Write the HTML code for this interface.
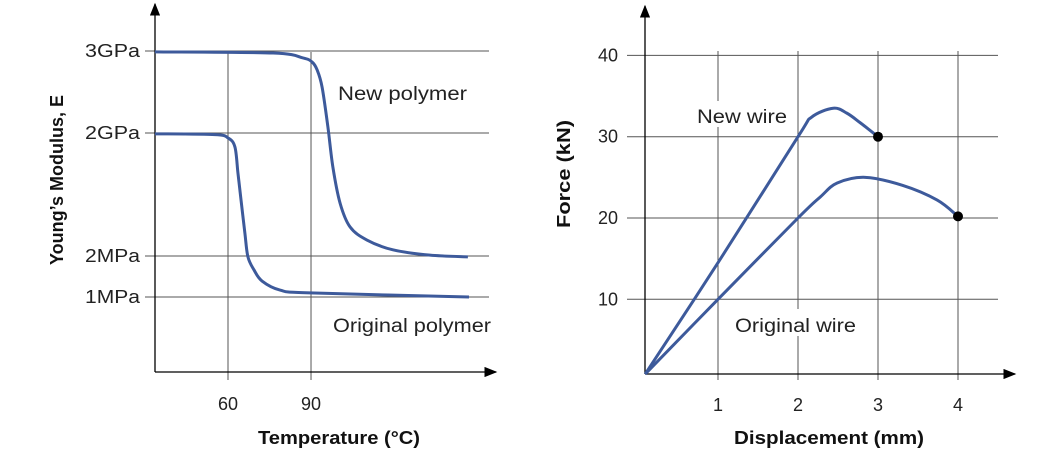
<!DOCTYPE html>
<html><head><meta charset="utf-8"><style>
body{margin:0;background:#fff}
svg{display:block;font-family:"Liberation Sans",sans-serif}
</style></head><body>
<svg id="c" width="1044" height="461" viewBox="0 0 1044 461"></svg>
<script>
// Left chart data (x in °C, y in level units: 0=1MPa,1=2MPa,4=2GPa,6=3GPa)
const leftYTickLabels=["3GPa","2GPa","2MPa","1MPa"];
const leftYTickLevels=[6,4,1,0];
const leftXTicks=[60,90];
const newPolyX=[33.6,76.3,87.1,90.4,92.2,94.0,96.1,97.9,100.5,104.1,110.2,119.6,133.0,146.7];
const newPolyY=[5.98,5.95,5.83,5.73,5.54,5.12,4.15,3.17,2.29,1.71,1.39,1.15,1.02,0.98];
const origPolyX=[33.6,55.3,60,62.5,63.6,64.7,66.1,67.2,69.4,72.3,78.8,89.6,147.1];
const origPolyY=[3.98,3.96,3.88,3.66,3.02,2.37,1.56,0.98,0.66,0.39,0.17,0.10,0];
// Right chart data
const rightYTicks=[10,20,30,40];
const rightXTicks=[1,2,3,4];
const newWireX=[0.09,1,2,2.17,2.44,2.61,2.78,3];
const newWireY=[0.8,14.5,30,32.4,33.5,32.9,31.7,30];
const origWireX=[0.09,1,2,2.28,2.49,2.84,3.31,3.74,4];
const origWireY=[0.8,10,20,22.6,24.3,25.0,24.0,22.2,20.2];

const NS="http://www.w3.org/2000/svg",svg=document.getElementById('c');
function mk(t,a,txt){const e=document.createElementNS(NS,t);for(const k in a)e.setAttribute(k,a[k]);if(txt!=null)e.textContent=txt;svg.appendChild(e);return e;}
const lx=v=>228+(v-60)*2.767, ly=v=>297-41*v;
const rx=v=>638+v*80, ry=v=>380.6-8.13*v;
function smooth(pts){let d=`M${pts[0][0]},${pts[0][1]}`;for(let i=0;i<pts.length-1;i++){const p0=pts[i-1]||pts[i],p1=pts[i],p2=pts[i+1],p3=pts[i+2]||p2;const t=6;d+=` C${p1[0]+(p2[0]-p0[0])/t},${p1[1]+(p2[1]-p0[1])/t} ${p2[0]-(p3[0]-p1[0])/t},${p2[1]-(p3[1]-p1[1])/t} ${p2[0]},${p2[1]}`;}return d;}
const g="#555",lc="#3d5a9b";
const defs=mk('defs',{});defs.innerHTML='<marker id="ar" markerWidth="10" markerHeight="8" refX="9" refY="4" orient="auto"><path d="M0,0 L10,4 L0,8 z" fill="#000"/></marker>';
function lbl(name,attrs,txt,len){const a=Object.assign({fill:'#222'},attrs);if(len){a.textLength=len;a.lengthAdjust='spacingAndGlyphs';}const t=mk('text',a,txt);return t;}

// LEFT gridlines
leftYTickLevels.forEach((v,i)=>{let e=mk('line',{x1:145,x2:489,y1:ly(v),y2:ly(v),stroke:g,'stroke-width':1});

let t=mk('text',{x:85,y:ly(v)+6,'font-size':18,fill:'#222',textLength:55,lengthAdjust:'spacingAndGlyphs'},leftYTickLabels[i]);
});
leftXTicks.forEach(v=>{let e=mk('line',{x1:lx(v),x2:lx(v),y1:52,y2:380,stroke:g,'stroke-width':1});

let t=mk('text',{x:lx(v),y:410,'text-anchor':'middle','font-size':18,fill:'#222'},v);
});
let a=mk('line',{x1:155,y1:372,x2:155,y2:4,stroke:'#000','stroke-width':1.3,'marker-end':'url(#ar)'});
a=mk('line',{x1:155,y1:372,x2:496,y2:372,stroke:'#000','stroke-width':1.3,'marker-end':'url(#ar)'});
let p=mk('path',{d:smooth(newPolyX.map((x,i)=>[lx(x),ly(newPolyY[i])])),fill:'none',stroke:lc,'stroke-width':3});

p=mk('path',{d:smooth(origPolyX.map((x,i)=>[lx(x),ly(origPolyY[i])])),fill:'none',stroke:lc,'stroke-width':3});

lbl('new-polymer-label',{x:338,y:100,'font-size':19},'New polymer',129);
lbl('original-polymer-label',{x:333,y:332,'font-size':19},'Original polymer',158);
lbl('left-x-axis-title',{x:258,y:444,'font-size':18,'font-weight':'bold',fill:'#111'},'Temperature (°C)',162);
lbl('left-y-axis-title',{x:0,y:0,transform:'translate(63,265) rotate(-90)','font-size':18,'font-weight':'bold',fill:'#111'},'Young’s Modulus, E',170);

// RIGHT
rightYTicks.forEach(v=>{let e=mk('line',{x1:627,x2:998,y1:ry(v),y2:ry(v),stroke:g,'stroke-width':1});

let t=mk('text',{x:618,y:ry(v)+6,'text-anchor':'end','font-size':18,fill:'#222'},v);
});
rightXTicks.forEach(v=>{let e=mk('line',{x1:rx(v),x2:rx(v),y1:51,y2:380,stroke:g,'stroke-width':1});

let t=mk('text',{x:rx(v),y:411,'text-anchor':'middle','font-size':18,fill:'#222'},v);
});
a=mk('line',{x1:645,y1:374,x2:645,y2:6,stroke:'#000','stroke-width':1.3,'marker-end':'url(#ar)'});
a=mk('line',{x1:645,y1:374,x2:1015,y2:374,stroke:'#000','stroke-width':1.3,'marker-end':'url(#ar)'});
let r=mk('rect',{x:692,y:101,width:100,height:26,fill:'#fff'});
r=mk('rect',{x:730,y:309,width:132,height:27,fill:'#fff'});
p=mk('path',{d:smooth(newWireX.map((x,i)=>[rx(x),ry(newWireY[i])])),fill:'none',stroke:lc,'stroke-width':3});

p=mk('path',{d:smooth(origWireX.map((x,i)=>[rx(x),ry(origWireY[i])])),fill:'none',stroke:lc,'stroke-width':3});

let d=mk('circle',{cx:rx(newWireX[newWireX.length-1]),cy:ry(newWireY[newWireY.length-1]),r:5,fill:'#000'});
d=mk('circle',{cx:rx(origWireX[origWireX.length-1]),cy:ry(origWireY[origWireY.length-1]),r:5,fill:'#000'});
lbl('new-wire-label',{x:697,y:123,'font-size':19},'New wire',90);
lbl('original-wire-label',{x:735,y:332,'font-size':19},'Original wire',121);
lbl('right-x-axis-title',{x:734,y:444,'font-size':18,'font-weight':'bold',fill:'#111'},'Displacement (mm)',190);
lbl('right-y-axis-title',{x:0,y:0,transform:'translate(570,228) rotate(-90)','font-size':18,'font-weight':'bold',fill:'#111'},'Force (kN)',108);
</script>
</body></html>
